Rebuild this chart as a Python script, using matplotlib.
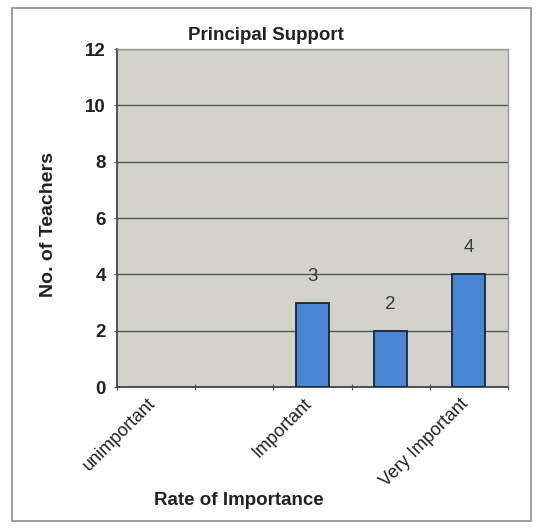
import matplotlib
matplotlib.use("Agg")
import matplotlib.pyplot as plt
from matplotlib.patches import Rectangle
from matplotlib.transforms import ScaledTranslation

categories = ["unimportant", "", "Important", "", "Very Important"]
teachers = [0, 0, 3, 2, 4]
y_ticks = [0, 2, 4, 6, 8, 10, 12]

plt.rcParams['font.family'] = ['Liberation Sans', 'DejaVu Sans']


def main():
    fig = plt.figure(figsize=(5.42, 5.28), dpi=100)
    fig.patch.set_facecolor("white")
    # outer chart border
    fig.add_artist(Rectangle((12 / 542, 1 - 521 / 528), 519 / 542, 513 / 528,
                             transform=fig.transFigure, fill=False,
                             edgecolor="#8c8c8c", linewidth=1.2))

    ax = fig.add_axes([0.216, 0.267, 0.721, 0.640])
    ax.set_facecolor("#d3d3cc")

    x = list(range(len(categories)))
    ax.bar(x, teachers, width=0.42, color="#4a86d4",
           edgecolor=["none" if v == 0 else "#1a2433" for v in teachers],
           linewidth=1.3, zorder=3)
    for xi, v in zip(x, teachers):
        if v > 0:
            ax.annotate(str(v), (xi, v), xytext=(0, 19), textcoords="offset points",
                        ha="center", va="center", fontsize=13.5, color="#3a3a3a")

    ax.set_xlim(-0.5, len(categories) - 0.5)
    ax.set_ylim(0, 12)
    ax.set_yticks(y_ticks)
    ax.yaxis.grid(True, color="#555555", linewidth=1.0, zorder=1)
    ax.set_axisbelow(True)

    # tick marks at category boundaries, rotated labels near the centres
    ax.set_xticks([i - 0.5 for i in range(len(categories) + 1)])
    ax.set_xticklabels([])
    shift = ScaledTranslation(-9 / 100, -8 / 100, fig.dpi_scale_trans)
    for xi, name in zip(x, categories):
        ax.text(xi, 0, name, transform=ax.get_xaxis_transform() + shift,
                rotation=45, ha="right", va="top", rotation_mode="anchor",
                fontsize=13, color="#222222")
    ax.tick_params(axis="x", which="major", length=4, direction="inout", color="#555555")
    ax.tick_params(axis="y", length=4, direction="inout", color="#555555",
                   labelsize=13.5, labelcolor="#222222", pad=6)
    for lab in ax.get_yticklabels():
        lab.set_fontweight("bold")

    for side in ["left", "bottom"]:
        ax.spines[side].set_color("#444444")
        ax.spines[side].set_linewidth(1.3)
    for side in ["top", "right"]:
        ax.spines[side].set_color("#999999")
        ax.spines[side].set_linewidth(1.0)

    fig.text(0.491, 0.932, "Principal Support", fontsize=13.5, fontweight="bold",
             color="#222222", ha="center", va="center")
    ax.set_ylabel("No. of Teachers", fontsize=14, fontweight="bold",
                  color="#222222")
    ax.yaxis.set_label_coords(-0.155, 0.48)
    fig.text(0.441, 0.053, "Rate of Importance", fontsize=13.5, fontweight="bold",
             color="#222222", ha="center", va="center")

    plt.savefig("out.png", dpi=100)


if __name__ == '__main__':
    main()
